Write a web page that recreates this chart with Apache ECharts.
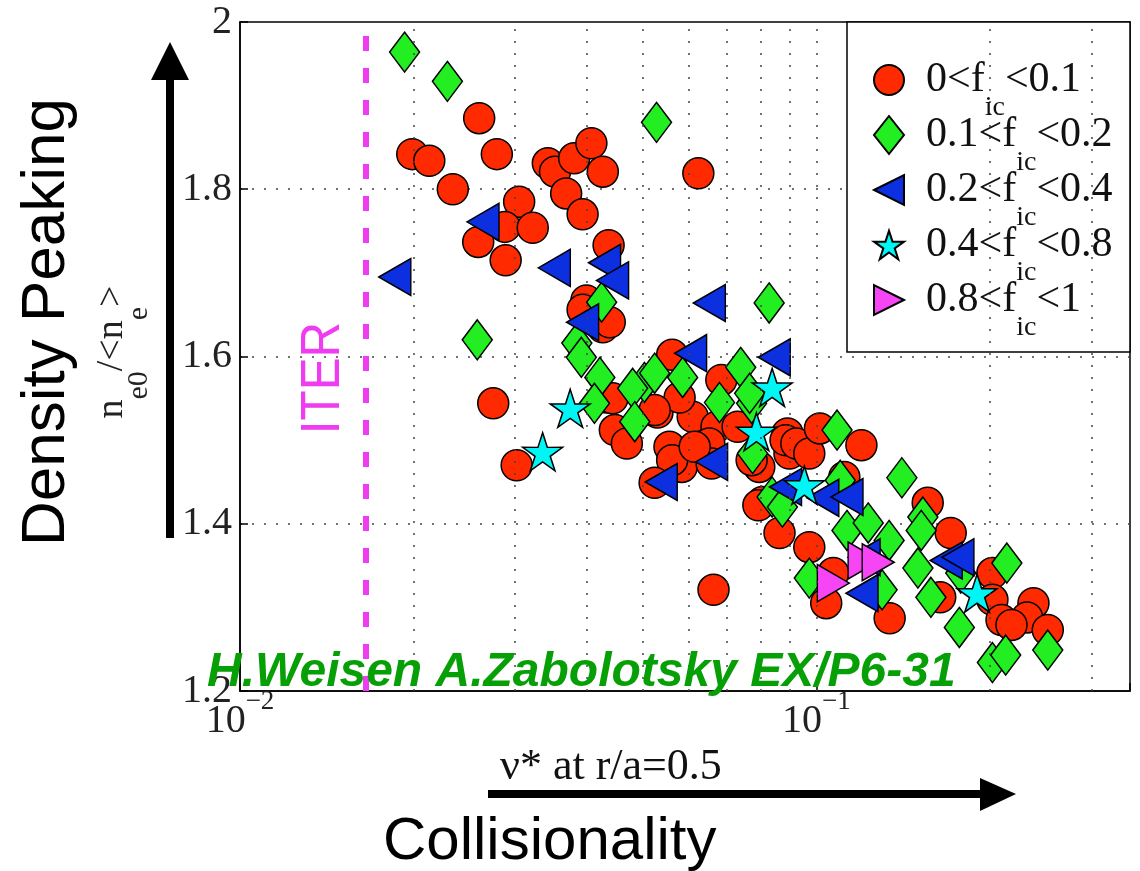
<!DOCTYPE html>
<html><head><meta charset="utf-8">
<script src="https://cdn.jsdelivr.net/npm/echarts@6/dist/echarts.min.js"></script>
<style>html,body{margin:0;padding:0;background:#fff}#c{width:1140px;height:871px}</style>
</head><body><div id="c"></div>
<script>
// ---- data (nu* at r/a=0.5 , n_e0/<n_e>) ----
const SERIES_NAMES = ['0<fic<0.1', '0.1<fic<0.2', '0.2<fic<0.4', '0.4<fic<0.8', '0.8<fic<1'];
const LEGEND_LO = ['0', '0.1', '0.2', '0.4', '0.8'];
const LEGEND_HI = ['0.1', '0.2', '0.4', '0.8', '1'];

const circX = [0.0260,0.0199,0.0213,0.0279,0.0234,0.0342,0.0352,0.0380,0.0407,0.0426,0.0368,0.0305,0.0393,0.0288,0.0322,0.0259,0.0436,0.0289,0.0624,
  0.0399,0.0393,0.0426,0.0438,0.0275,0.0302,0.0433,0.0447,0.0469,0.0443,0.0530,0.0610,0.0579,0.0562,0.0556,0.0584,0.0562,0.0671,0.0652,0.0684,
  0.0796,0.0891,0.0898,0.0806,0.0863,0.0524,0.0730,0.0658,0.0615,0.0524,0.0772,0.0884,0.0923,0.0972,0.1014,0.1197,0.1118,0.0793,0.0972,
  0.156,0.171,0.107,0.104,0.134,0.0663,0.164,0.202,0.202,0.2095,0.238,0.232,0.252,0.218];
const circY = [1.885,1.842,1.834,1.842,1.800,1.831,1.821,1.837,1.855,1.821,1.795,1.785,1.770,1.755,1.754,1.737,1.733,1.715,1.819,
  1.667,1.656,1.635,1.641,1.544,1.470,1.551,1.512,1.496,1.550,1.533,1.528,1.551,1.602,1.492,1.468,1.476,1.516,1.496,1.572,
  1.468,1.508,1.484,1.426,1.389,1.536,1.516,1.472,1.492,1.449,1.476,1.500,1.496,1.484,1.514,1.494,1.456,1.422,1.372,
  1.425,1.389,1.341,1.305,1.287,1.321,1.312,1.341,1.309,1.285,1.305,1.288,1.273,1.279];

const diamX = [0.0193,0.0229,0.0528,0.0258,0.0828,0.0424,0.0384,0.0391,0.0421,0.0412,0.0503,0.0480,0.0484,0.0524,0.0586,0.0679,0.0739,0.0772,0.0766,0.0775,
  0.0838,0.0873,0.1086,0.110,0.1407,0.113,0.123,0.1337,0.0972,0.130,0.153,0.152,0.150,0.158,0.178,0.214,0.177,0.202,0.213,0.252];
const diamY = [1.964,1.929,1.880,1.620,1.664,1.665,1.616,1.599,1.575,1.544,1.569,1.562,1.522,1.580,1.575,1.545,1.587,1.544,1.556,1.484,
  1.432,1.420,1.512,1.452,1.455,1.392,1.401,1.380,1.335,1.321,1.408,1.392,1.347,1.312,1.341,1.353,1.276,1.234,1.243,1.249];

const triX = [0.01856,0.0264,0.0351,0.0429,0.0443,0.0393,0.0652,0.0605,0.0845,0.0538,0.0658,0.0884,0.1026,0.113,0.121,0.168,0.176,0.120];
const triY = [1.695,1.761,1.706,1.712,1.691,1.641,1.664,1.604,1.599,1.450,1.474,1.444,1.431,1.432,1.360,1.356,1.360,1.317];

const starX = [0.0335,0.0374,0.0787,0.0838,0.0953,0.190];
const starY = [1.486,1.538,1.510,1.563,1.446,1.317];

const magX = [0.107,0.121,0.128];
const magY = [1.329,1.356,1.354];

const ITER_NU = 0.0165;
const GRID_X = [0.02,0.03,0.04,0.05,0.06,0.07,0.08,0.09,0.1,0.2,0.3];
const X_MIN = 0.01, X_MAX = 0.35;
const Y_MIN = 1.2, Y_MAX = 2.0, Y_STEP = 0.2;

// ---- symbols ----
const TRI_LEFT = 'path://M0,50L100,0L100,100Z';
const TRI_RIGHT = 'path://M100,50L0,0L0,100Z';
const STAR = 'path://M50,0L61.17,34.63L97.55,34.55L68.07,55.87L79.39,90.45L50,69L20.61,90.45L31.93,55.87L2.45,34.55L38.83,34.63Z';

const pairs = (xs, ys) => xs.map((x, i) => [x, ys[i]]);
const border = { borderColor: '#000', borderWidth: 1.5, opacity: 1 };

function scatter(name, xs, ys, symbol, size, color) {
  return {
    type: 'scatter', name, data: pairs(xs, ys), symbol, symbolSize: size,
    itemStyle: Object.assign({ color }, border),
    emphasis: { disabled: true }, silent: true
  };
}

const chart = echarts.init(document.getElementById('c'), null, { renderer: 'canvas' });
const serif = 'Liberation Serif';
chart.setOption({
  animation: false,
  backgroundColor: '#fff',
  grid: { left: 240, right: 10, top: 22, bottom: 180, show: true, borderColor: '#000', borderWidth: 1.5 },
  xAxis: {
    type: 'log', logBase: 10, min: X_MIN, max: X_MAX,
    axisLine: { show: true, lineStyle: { color: '#000', width: 1.5 } },
    axisTick: { show: true, inside: true, length: 8, lineStyle: { color: '#000', width: 1.5 } },
    splitLine: { show: false },
    axisLabel: {
      margin: 10,
      formatter: function (v) {
        const l = Math.log10(v), e = Math.round(l);
        if (Math.abs(l - e) > 1e-6) return '';
        return '{b|10}{p|\u2212' + (-e) + '}';
      },
      rich: {
        b: { fontFamily: serif, fontSize: 40, lineHeight: 40, color: '#222', verticalAlign: 'middle' },
        p: { fontFamily: serif, fontSize: 27, lineHeight: 27, color: '#222', padding: [0, 0, 38, 0], verticalAlign: 'middle' }
      }
    }
  },
  yAxis: {
    type: 'value', min: Y_MIN, max: Y_MAX, interval: Y_STEP,
    axisLine: { show: true, lineStyle: { color: '#000', width: 1.5 } },
    axisTick: { show: true, inside: true, length: 8, lineStyle: { color: '#000', width: 1.5 } },
    splitLine: { show: true, lineStyle: { type: [2, 10], color: '#444', width: 1.5 } },
    axisLabel: { fontFamily: serif, fontSize: 40, color: '#222', margin: 8 }
  },
  legend: {
    orient: 'vertical', left: 873, top: 38, padding: 0,
    itemWidth: 30, itemHeight: 38, itemGap: -29, z: 6,
    selectedMode: false, data: SERIES_NAMES,
    formatter: function (name) {
      const i = SERIES_NAMES.indexOf(name);
      return '{a|' + LEGEND_LO[i] + '<f}{s|ic}{m|<' + LEGEND_HI[i] + '}';
    },
    textStyle: {
      rich: {
        a: { fontFamily: serif, fontSize: 42, lineHeight: 42, color: '#111', verticalAlign: 'middle', padding: [0, 0, 0, 17] },
        m: { fontFamily: serif, fontSize: 42, lineHeight: 42, color: '#111', verticalAlign: 'middle' },
        s: { fontFamily: serif, fontSize: 28, lineHeight: 28, color: '#111', verticalAlign: 'middle', padding: [56, 0, 0, 0] }
      }
    }
  },
  series: [
    {
      type: 'scatter', name: 'guides', data: [], silent: true,
      markLine: {
        silent: true, symbol: 'none', label: { show: false }, animation: false, precision: 6,
        emphasis: { disabled: true },
        data: GRID_X.map(v => ({ xAxis: v, lineStyle: { type: [2, 10], color: '#444', width: 1.5 } }))
          .concat([{ xAxis: ITER_NU, lineStyle: { type: [15, 17], color: '#f03cf0', width: 6 } }])
      }
    },
    scatter(SERIES_NAMES[0], circX, circY, 'circle', 31, '#ff2a00'),
    scatter(SERIES_NAMES[1], diamX, diamY, 'diamond', [30, 40], '#22ee22'),
    scatter(SERIES_NAMES[2], triX, triY, TRI_LEFT, [32, 37], '#0c2fe0'),
    scatter(SERIES_NAMES[3], starX, starY, STAR, [40, 38], '#00f5f5'),
    scatter(SERIES_NAMES[4], magX, magY, TRI_RIGHT, [32, 37], '#f545f5')
  ],
  graphic: [
    { type: 'rect', z: 5, shape: { x: 847, y: 22, width: 283, height: 330 }, style: { fill: '#fff', stroke: '#000', lineWidth: 1.5 } },
    { type: 'line', shape: { x1: 170, y1: 538, x2: 170, y2: 76 }, style: { stroke: '#000', lineWidth: 8 } },
    { type: 'polygon', shape: { points: [[151, 80], [189, 80], [170, 42]] }, style: { fill: '#000' } },
    { type: 'line', shape: { x1: 488, y1: 794, x2: 984, y2: 794 }, style: { stroke: '#000', lineWidth: 8 } },
    { type: 'polygon', shape: { points: [[980, 778], [980, 811], [1016, 794]] }, style: { fill: '#000' } },
    { type: 'text', x: 47, y: 322, rotation: Math.PI / 2,
      style: { text: 'Density Peaking', font: '62px "Liberation Sans"', fill: '#000', align: 'center', verticalAlign: 'middle', textAlign: 'center', textVerticalAlign: 'middle' } },
    { type: 'text', x: 112, y: 352, rotation: Math.PI / 2,
      style: { text: '{m|n}{s|e0}{m|/<n}{s|e}{m|>}', fill: '#222', align: 'center', verticalAlign: 'middle', textAlign: 'center', textVerticalAlign: 'middle',
        rich: {
          m: { fontFamily: serif, fontSize: 38, lineHeight: 38, fill: '#222', verticalAlign: 'middle' },
          s: { fontFamily: serif, fontSize: 30, lineHeight: 30, fill: '#222', verticalAlign: 'middle', padding: [54, 0, 0, 0] }
        } } },
    { type: 'text', x: 324, y: 378, rotation: Math.PI / 2, scaleX: 0.88,
      style: { text: 'ITER', font: '56px "Liberation Sans"', fill: '#f03cf0', align: 'center', verticalAlign: 'middle', textAlign: 'center', textVerticalAlign: 'middle' } },
    { type: 'text', x: 500, y: 767,
      style: { text: '\u03bd* at r/a=0.5', font: '44px "Liberation Serif"', fill: '#111', align: 'left', verticalAlign: 'middle', textAlign: 'left', textVerticalAlign: 'middle' } },
    { type: 'text', x: 383, y: 842,
      style: { text: 'Collisionality', font: '60px "Liberation Sans"', fill: '#000', align: 'left', verticalAlign: 'middle', textAlign: 'left', textVerticalAlign: 'middle' } },
    { type: 'text', x: 207, y: 673, z: 100,
      style: { text: 'H.Weisen A.Zabolotsky EX/P6-31', font: 'italic bold 48px "Liberation Sans"', fill: '#06a006', align: 'left', verticalAlign: 'middle', textAlign: 'left', textVerticalAlign: 'middle' } }
  ]
});
</script>
</body></html>
